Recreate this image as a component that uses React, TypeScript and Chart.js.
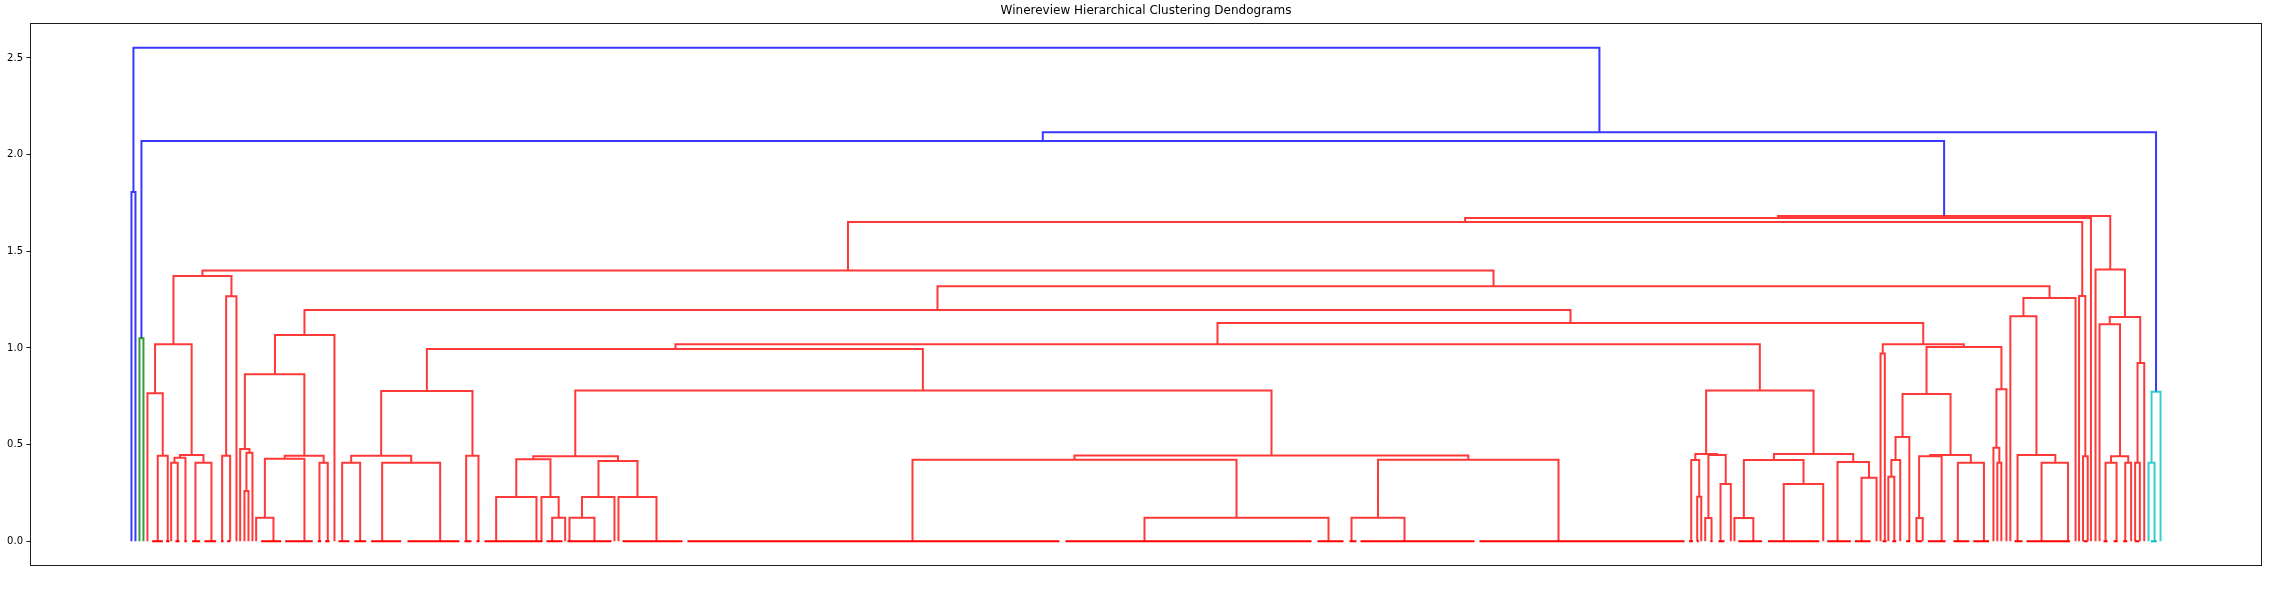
import React, { useEffect, useRef } from 'react';
import { Chart, registerables } from 'chart.js';

Chart.register(...registerables);

const TITLE = 'Winereview Hierarchical Clustering Dendograms';
const yTickValues = [0, 0.5, 1.0, 1.5, 2.0, 2.5];

// Each link: [x of left leg, x of right leg, merge height, left child height, right child height]
const blueLinks: number[][] = [
  [134, 1599.9, 2.553, 1.806, 2.116],
  [132, 136, 1.806, 0, 0],
  [1043.3, 2156.5, 2.116, 2.07, 0.773],
  [142, 1944.6, 2.07, 1.05, 1.682],
];

const greenLinks: number[][] = [[140, 144, 1.05, 0, 0]];

const cyanLinks: number[][] = [
  [2152, 2161, 0.773, 0.406, 0],
  [2149, 2155, 0.406, 0, 0],
];

const redLinks: number[][] = [
  [1778.5, 2110.7, 1.682, 1.672, 1.406],
  [1465.6, 2091.4, 1.672, 1.651, 0],
  [848.5, 2082.7, 1.651, 1.4, 1.269],
  [2079.5, 2085.8, 1.269, 0, 0.44],
  [2083.5, 2088.2, 0.44, 0, 0],
  [2096, 2125.4, 1.406, 0, 1.16],
  [2110.2, 2140.7, 1.16, 1.122, 0.922],
  [2100, 2120.5, 1.122, 0, 0.44],
  [2111.5, 2128.7, 0.44, 0.406, 0.406],
  [2106, 2117, 0.406, 0, 0],
  [2125.7, 2131.6, 0.406, 0, 0],
  [2138, 2144.7, 0.922, 0.406, 0],
  [2135.6, 2140.3, 0.406, 0, 0],

  [203, 1494, 1.4, 1.372, 1.319],
  [174, 232, 1.372, 1.019, 1.267],
  [155.6, 192.2, 1.019, 0.766, 0.447],
  [148, 163.3, 0.766, 0, 0.442],
  [158.3, 168.3, 0.442, 0, 0],
  [180.5, 204, 0.447, 0.432, 0.406],
  [175, 186, 0.432, 0.406, 0],
  [171.7, 178.3, 0.406, 0, 0],
  [196, 212, 0.406, 0, 0],
  [226.7, 237, 1.267, 0.442, 0],
  [222.7, 230.7, 0.442, 0, 0],

  [938, 2050, 1.319, 1.196, 1.258],
  [305, 1571, 1.196, 1.067, 1.129],
  [275.5, 335, 1.067, 0.864, 0],
  [245.4, 304.9, 0.864, 0.478, 0.442],
  [240.7, 250, 0.478, 0, 0.458],
  [247, 253, 0.458, 0.26, 0],
  [245, 249, 0.26, 0, 0],
  [285.3, 324.2, 0.442, 0.427, 0.406],
  [265.4, 305, 0.427, 0.122, 0],
  [256.7, 274, 0.122, 0, 0],
  [320, 328.3, 0.406, 0, 0],

  [1218, 1923.7, 1.129, 1.019, 1.019],
  [676, 1760.3, 1.019, 0.995, 0.78],
  [427.4, 923.4, 0.995, 0.778, 0.78],
  [381.7, 473, 0.778, 0.442, 0.442],
  [351.7, 411.7, 0.442, 0.406, 0.406],
  [342.7, 360.7, 0.406, 0, 0],
  [382.7, 440.7, 0.406, 0, 0],
  [466.7, 479, 0.442, 0, 0],
  [575.8, 1272, 0.78, 0.44, 0.444],
  [533.8, 618.5, 0.44, 0.425, 0.416],
  [516.8, 551, 0.425, 0.229, 0.229],
  [496.7, 537, 0.229, 0, 0],
  [542, 559.2, 0.229, 0, 0.122],
  [552.7, 565.7, 0.122, 0, 0],
  [599, 638, 0.416, 0.229, 0.229],
  [582.5, 615, 0.229, 0.122, 0],
  [570, 595, 0.122, 0, 0],
  [619, 657, 0.229, 0, 0],
  [1075, 1468.8, 0.444, 0.422, 0.422],
  [913, 1237, 0.422, 0, 0.122],
  [1145, 1329, 0.122, 0, 0],
  [1378.5, 1559, 0.422, 0.122, 0],
  [1352, 1405, 0.122, 0, 0],

  [1706.6, 1814, 0.78, 0.452, 0.451],
  [1695.8, 1717.5, 0.452, 0.42, 0.447],
  [1691.7, 1699.7, 0.42, 0, 0.23],
  [1697.7, 1701.7, 0.23, 0, 0],
  [1708.9, 1726.2, 0.447, 0.12, 0.296],
  [1705.7, 1712, 0.12, 0, 0],
  [1721, 1731.3, 0.296, 0, 0],
  [1774.4, 1853.7, 0.451, 0.42, 0.41],
  [1744.3, 1804, 0.42, 0.12, 0.296],
  [1734.9, 1753.8, 0.12, 0, 0],
  [1784.2, 1823.7, 0.296, 0, 0],
  [1838, 1869.5, 0.41, 0, 0.329],
  [1862, 1877, 0.329, 0, 0],

  [1883.2, 1964.3, 1.019, 0.971, 1.005],
  [1881, 1885.3, 0.971, 0, 0],
  [1927, 2001.9, 1.005, 0.762, 0.787],
  [1903, 1951, 0.762, 0.539, 0.446],
  [1896, 1909.8, 0.539, 0.42, 0],
  [1891.8, 1900.7, 0.42, 0.334, 0],
  [1888.8, 1894.8, 0.334, 0, 0],
  [1930.6, 1971.3, 0.446, 0.44, 0.406],
  [1919.6, 1942.1, 0.44, 0.12, 0],
  [1916.9, 1923.2, 0.12, 0, 0],
  [1958.3, 1984.4, 0.406, 0, 0],
  [1996.9, 2006.9, 0.787, 0.484, 0],
  [1993.9, 1999.8, 0.484, 0, 0.406],
  [1997.8, 2001.8, 0.406, 0, 0],
  [2023.9, 2076, 1.258, 1.164, 0],
  [2010.8, 2036.9, 1.164, 0, 0.446],
  [2018, 2055.8, 0.446, 0, 0.406],
  [2042, 2068.5, 0.406, 0, 0],
];

// Zero-height merges along the baseline: [start, end]
const redZeroSpans: number[][] = [
  [152.7, 163.3], [166.7, 170], [176, 180], [185, 187.3], [192.7, 200.7], [205, 216.7],
  [221.7, 224], [227.7, 230.7], [261.7, 281.7], [285.7, 313.3], [318.3, 321.7], [325.7, 330],
  [339, 350], [355, 366.7], [371.7, 401.7], [408, 460], [465, 472], [477, 480], [485, 543],
  [547, 563], [568, 612], [623, 683], [688, 1060], [1066, 1312], [1318, 1344], [1350, 1357],
  [1361, 1475], [1480, 1685], [1689.5, 1693.4], [1697.4, 1699.3], [1711, 1713], [1719, 1725],
  [1738.8, 1762.5], [1768.4, 1819.8], [1827.7, 1851.3], [1855.3, 1871], [1883, 1887],
  [1892.8, 1896.7], [1906.6, 1910.6], [1916.5, 1922.4], [1928.3, 1946], [1954, 1969.8],
  [1973.7, 1989.5], [2015, 2023], [2027, 2070.4], [2084, 2088], [2104, 2108], [2114, 2118],
  [2123.7, 2127.7], [2135.6, 2139.6],
];
const cyanZeroSpans: number[][] = [[2151.4, 2157.3]];

const COLORS = {
  blue: 'rgba(0, 0, 255, 0.78)',
  green: 'rgba(0, 128, 0, 0.78)',
  red: 'rgba(255, 0, 0, 0.78)',
  cyan: 'rgba(0, 191, 191, 0.78)',
  redBase: '#ff0000',
  cyanBase: '#00bfbf',
};

function linkPoints(links: number[][]) {
  const pts: { x: number | null; y: number | null }[] = [];
  for (const [xl, xr, h, hl, hr] of links) {
    pts.push({ x: xl, y: hl }, { x: xl, y: h }, { x: xr, y: h }, { x: xr, y: hr }, { x: null, y: null });
  }
  return pts;
}

function spanPoints(spans: number[][]) {
  const pts: { x: number | null; y: number | null }[] = [];
  for (const [a, b] of spans) {
    pts.push({ x: a, y: 0 }, { x: b, y: 0 }, { x: null, y: null });
  }
  return pts;
}

export default function App() {
  const ref = useRef<HTMLCanvasElement>(null);

  useEffect(() => {
    const canvas = ref.current;
    if (!canvas) return;

    const all = [...blueLinks, ...greenLinks, ...cyanLinks, ...redLinks];
    const leafMin = Math.min(...all.map((l) => l[0]));
    const leafMax = Math.max(...all.map((l) => l[1]));
    const span = leafMax - leafMin;
    const topH = Math.max(...all.map((l) => l[2]));

    const ds = (data: any[], color: string, width: number) => ({
      data,
      borderColor: color,
      backgroundColor: color,
      borderWidth: width,
      showLine: true,
      pointRadius: 0,
      pointHoverRadius: 0,
      fill: false,
      spanGaps: false,
      tension: 0,
      borderCapStyle: 'butt',
      borderJoinStyle: 'miter',
    });

    const framePlugin = {
      id: 'frame',
      afterDatasetsDraw(chart: any) {
        const { ctx, chartArea: a } = chart;
        const l = Math.round(a.left) + 0.5;
        const t = Math.round(a.top) + 0.5;
        const r = Math.round(a.right) - 0.5;
        const b = Math.round(a.bottom) - 0.5;
        ctx.save();
        ctx.strokeStyle = '#1a1a1a';
        ctx.lineWidth = 1;
        ctx.strokeRect(l, t, r - l, b - t);
        ctx.restore();
      },
    };

    const chart = new Chart(canvas, {
      type: 'scatter',
      data: {
        datasets: [
          ds(spanPoints(redZeroSpans), COLORS.redBase, 2),
          ds(spanPoints(cyanZeroSpans), COLORS.cyanBase, 2),
          ds(linkPoints(redLinks), COLORS.red, 2),
          ds(linkPoints(greenLinks), COLORS.green, 2),
          ds(linkPoints(cyanLinks), COLORS.cyan, 2),
          ds(linkPoints(blueLinks), COLORS.blue, 2),
        ] as any,
      },
      options: {
        animation: false,
        responsive: false,
        devicePixelRatio: 1,
        events: [],
        layout: { padding: { left: 0, right: 7, top: 0, bottom: 0 } },
        plugins: {
          legend: { display: false },
          tooltip: { enabled: false },
          title: {
            display: true,
            text: TITLE,
            fullSize: false,
            color: '#000',
            font: { family: 'DejaVu Sans', size: 12, weight: 'normal' as any, lineHeight: 1.2 },
            padding: { top: 4, bottom: 4.6 },
          },
        },
        scales: {
          x: {
            type: 'linear',
            min: leafMin - 0.05 * span,
            max: leafMax + 0.05 * span,
            ticks: { display: false },
            grid: { display: false },
            border: { display: false },
            afterFit: (s: any) => {
              s.height = 24;
            },
          },
          y: {
            type: 'linear',
            min: -0.05 * topH,
            max: 1.05 * topH,
            afterBuildTicks: (s: any) => {
              s.ticks = yTickValues.map((v) => ({ value: v }));
            },
            ticks: {
              color: '#000',
              font: { family: 'DejaVu Sans', size: 10 },
              padding: 3.5,
              callback: (v: any) => Number(v).toFixed(1),
            },
            grid: {
              drawOnChartArea: false,
              drawTicks: true,
              tickLength: 3.5,
              tickWidth: 1,
              tickColor: '#1a1a1a',
            },
            border: { display: false },
            afterFit: (s: any) => {
              s.width = 30;
            },
          },
        },
      },
      plugins: [framePlugin],
    });

    return () => chart.destroy();
  }, []);

  return (
    <div style={{ position: 'fixed', left: 0, top: 0, width: 2269, height: 590, background: '#fff' }}>
      <canvas ref={ref} width={2269} height={590} style={{ width: 2269, height: 590, display: 'block' }} />
    </div>
  );
}
